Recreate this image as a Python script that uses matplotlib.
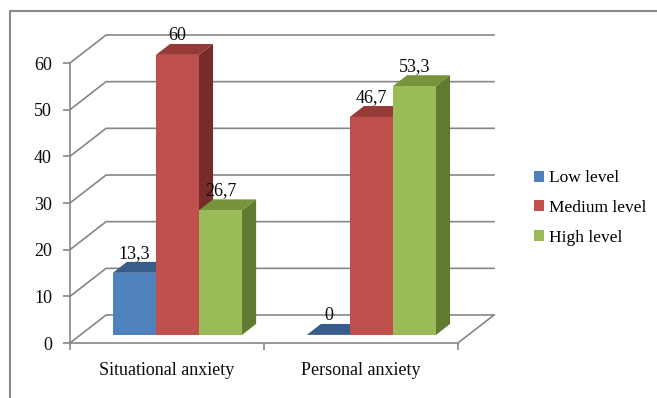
#!/usr/bin/env python3
"""Anxiety levels chart: Excel-style 3D clustered columns."""

import matplotlib

matplotlib.use("Agg")
import matplotlib.pyplot as plt
from matplotlib.lines import Line2D
from matplotlib.patches import Patch, Polygon

CATEGORIES = ["Situational anxiety", "Personal anxiety"]
SERIES_NAMES = ["Low level", "Medium level", "High level"]
LOW_VALUES = [13.3, 0.0]
MEDIUM_VALUES = [60.0, 46.7]
HIGH_VALUES = [26.7, 53.3]
VALUE_TICKS = [0, 10, 20, 30, 40, 50, 60]

FRONT_COLORS = ["#4f81bd", "#c0504d", "#9bbb59"]
TOP_COLORS = ["#385d8a", "#963a38", "#77933c"]
SIDE_COLORS = ["#2c4a70", "#772c2a", "#607a30"]
GRID_COLOR = "#868686"
TEXT_COLOR = "#0a0a0a"

# depth of the 3D box in data units (x in categories, y in values)
DEPTH_X = 0.186
DEPTH_Y = 6.0
BAR_FRONT = 0.29  # fraction of depth where bars start
BAR_DEPTH = 0.39  # fraction of depth taken by bars
BAR_WIDTH = 0.222

plt.rcParams["font.family"] = ["Liberation Serif", "DejaVu Serif"]


def draw_box(ax, n_cats, y_top):
    for value in VALUE_TICKS:
        xs = [0, DEPTH_X, n_cats + DEPTH_X]
        ys = [value, value + DEPTH_Y, value + DEPTH_Y]
        ax.plot(xs, ys, color=GRID_COLOR, lw=1.2, zorder=1, clip_on=False)
    # floor right edge and front edge, value axis
    ax.plot([n_cats, n_cats + DEPTH_X], [0, DEPTH_Y], color=GRID_COLOR, lw=1.2, zorder=1, clip_on=False)
    ax.plot([0, n_cats], [0, 0], color=GRID_COLOR, lw=1.2, zorder=1, clip_on=False)
    ax.plot([0, 0], [0, y_top], color=GRID_COLOR, lw=1.2, zorder=1, clip_on=False)


def draw_bar(ax, x_left, value, series_idx):
    sx = BAR_FRONT * DEPTH_X
    sy = BAR_FRONT * DEPTH_Y
    bx = BAR_DEPTH * DEPTH_X
    by = BAR_DEPTH * DEPTH_Y
    xl = x_left + sx
    xr = xl + BAR_WIDTH
    y0 = sy
    y1 = value + sy

    side = Polygon([(xr, y0), (xr, y1), (xr + bx, y1 + by), (xr + bx, y0 + by)],
                   closed=True, facecolor=SIDE_COLORS[series_idx], edgecolor="none", zorder=3)
    top = Polygon([(xl, y1), (xr, y1), (xr + bx, y1 + by), (xl + bx, y1 + by)],
                  closed=True, facecolor=TOP_COLORS[series_idx], edgecolor="none", zorder=3)
    ax.add_patch(side)
    ax.add_patch(top)
    ax.bar(xl, value, width=BAR_WIDTH, bottom=y0, align="edge",
           color=FRONT_COLORS[series_idx], edgecolor="none", zorder=3)

    label = f"{value:g}".replace(".", ",")
    ax.text(xl + BAR_WIDTH / 2, y1 + by, label, ha="center", va="bottom",
            fontsize=13, color=TEXT_COLOR, zorder=4)


def main():
    fig = plt.figure(figsize=(6.57, 3.98), dpi=100)
    ax = fig.add_axes([70 / 657, 55 / 398, 424 / 657, 308 / 398])
    n_cats = len(CATEGORIES)
    ax.set_xlim(0, n_cats + DEPTH_X)
    ax.set_ylim(0, VALUE_TICKS[-1] + DEPTH_Y)

    draw_box(ax, n_cats, VALUE_TICKS[-1])

    series = [LOW_VALUES, MEDIUM_VALUES, HIGH_VALUES]
    for cat_idx in range(n_cats):
        group_left = cat_idx + 0.5 - 1.5 * BAR_WIDTH
        for s_idx, values in enumerate(series):
            draw_bar(ax, group_left + s_idx * BAR_WIDTH, values[cat_idx], s_idx)

    for spine in ax.spines.values():
        spine.set_visible(False)

    ax.set_yticks(VALUE_TICKS)
    ax.tick_params(axis="y", length=5, width=1.2, color=GRID_COLOR, pad=8,
                   labelsize=13, labelcolor=TEXT_COLOR)
    ax.set_xticks([i + 0.5 for i in range(n_cats)])
    ax.set_xticklabels(CATEGORIES)
    ax.set_xticks(list(range(n_cats + 1)), minor=True)
    ax.tick_params(axis="x", which="major", length=0, pad=14, labelsize=13, labelcolor=TEXT_COLOR)
    ax.tick_params(axis="x", which="minor", length=5, width=1.2, color=GRID_COLOR)

    handles = [Patch(facecolor=c, edgecolor="none") for c in FRONT_COLORS]
    fig.legend(handles, SERIES_NAMES, loc="center left", bbox_to_anchor=(527 / 657, 1 - 208 / 398),
               frameon=False, fontsize=12.5, handlelength=0.6, handleheight=0.6,
               handletextpad=0.25, labelspacing=0.78, borderaxespad=0)

    # outer chart border (open on right and bottom as in the source image)
    fig.add_artist(Line2D([10 / 657, 10 / 657, 1.0], [0.0, 1 - 11 / 398, 1 - 11 / 398],
                          color="#8a8a8a", lw=1.5, transform=fig.transFigure))

    fig.savefig("out.png", dpi=100)
    plt.close(fig)


if __name__ == "__main__":
    main()
